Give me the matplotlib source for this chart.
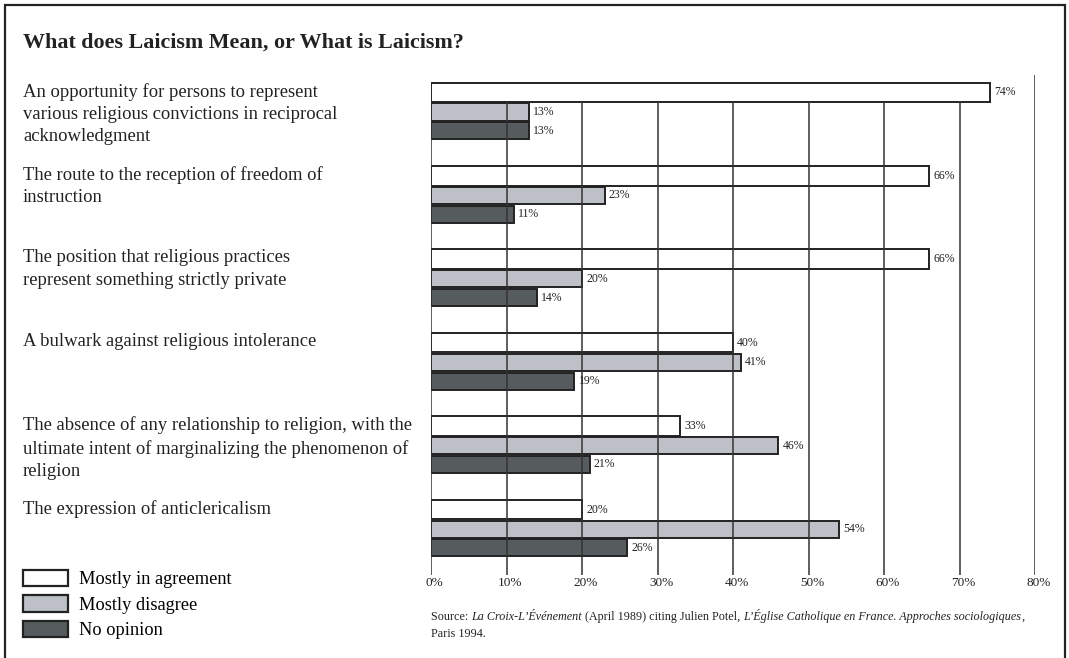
import matplotlib.pyplot as plt
import matplotlib.transforms as mtransforms
from matplotlib.patches import Rectangle, Patch
import numpy as np

plt.rcParams['font.family'] = ['Liberation Serif', 'DejaVu Serif']

# data
categories = [
    "An opportunity for persons to represent\nvarious religious convictions in reciprocal\nacknowledgment",
    "The route to the reception of freedom of\ninstruction",
    "The position that religious practices\nrepresent something strictly private",
    "A bulwark against religious intolerance",
    "The absence of any relationship to religion, with the\nultimate intent of marginalizing the phenomenon of\nreligion",
    "The expression of anticlericalism",
]
agree = [74, 66, 66, 40, 33, 20]
disagree = [13, 23, 20, 41, 46, 54]
no_opinion = [13, 11, 14, 19, 21, 26]
series_names = ["Mostly in agreement", "Mostly disagree", "No opinion"]
ticks = [0, 10, 20, 30, 40, 50, 60, 70, 80]

colors = ['#ffffff', '#bdc1c7', '#565c5d']
edge = '#222222'

fig = plt.figure(figsize=(10.69, 6.58), dpi=100)
W, H = 1069, 658

# outer frame
fig.patches.append(Rectangle((5 / W, -0.05), 1060 / W, 1.05 - 5 / H, transform=fig.transFigure,
                             fill=False, lw=1.6, edgecolor=edge, zorder=0))

fig.text(23 / W, 1 - 43 / H, "What does Laicism Mean, or What is Laicism?",
         fontsize=15.8, fontweight='bold', va='center', ha='left', color='#222222')

ax = fig.add_axes([431 / W, 1 - 575 / H, 604 / W, 500 / H])
ax.set_xlim(0, 80)
ax.set_ylim(5.55, -0.444)
ax.axis('off')

y = np.arange(len(categories))
offsets = [-0.235, 0.0, 0.225]
heights = [0.235, 0.205, 0.205]
for vals, off, h, c in zip([agree, disagree, no_opinion], offsets, heights, colors):
    bars = ax.barh(y + off, vals, height=h, color=c, edgecolor=edge, linewidth=1.4, zorder=2)
    for b, v in zip(bars, vals):
        ax.annotate(f"{v}%", (b.get_width(), b.get_y() + b.get_height() / 2),
                    xytext=(3, 0), textcoords='offset points', va='center', ha='left',
                    fontsize=8.5, color='#222222', zorder=4)

# grid lines
top_bar_bottom = offsets[0] + heights[0] / 2
ax.vlines(ticks[:-1], top_bar_bottom, 5.55, color='#333333', lw=1.1, zorder=3)
ax.vlines(ticks[-1], -0.444, 5.55, color='#333333', lw=1.1, zorder=3)
tick_trans = ax.transData + mtransforms.ScaledTranslation(0, -2 / 100, fig.dpi_scale_trans)
for t in ticks:
    ax.text(t + 0.5, 5.55, f"{t}%", transform=tick_trans, ha='center', va='top',
            fontsize=9.5, color='#222222')

# category labels
trans = mtransforms.blended_transform_factory(fig.transFigure, ax.transData)
for i, lab in enumerate(categories):
    ax.text(23 / W, i + offsets[0] - heights[0] / 2, lab, transform=trans, ha='left', va='top',
            fontsize=13.4, linespacing=1.4, color='#222222')

# legend
handles = [Patch(facecolor=c, edgecolor=edge, linewidth=1.6) for c in colors]
fig.legend(handles, series_names, loc='upper left', bbox_to_anchor=(23 / W, 1 - 570 / H),
           frameon=False, fontsize=13.2, handlelength=2.45, handleheight=1.0,
           labelspacing=0.38, handletextpad=0.6, borderaxespad=0, borderpad=0)

# source note with mixed italics
src1 = [("Source: ", 'normal'), ("La Croix-L\u2019\u00c9v\u00e9nement", 'italic'),
        (" (April 1989) citing Julien Potel, ", 'normal'),
        ("L\u2019\u00c9glise Catholique en France. Approches sociologiques", 'italic'), (",", 'normal')]
prev = fig.text(431 / W, 1 - 623 / H, src1[0][0], fontsize=8.7, style=src1[0][1],
                ha='left', va='bottom', color='#222222')
for txt, st in src1[1:]:
    prev = ax.annotate(txt, xy=(1, 0), xycoords=prev, ha='left', va='bottom',
                       fontsize=8.7, style=st, color='#222222', annotation_clip=False)
fig.text(431 / W, 1 - 640 / H, "Paris 1994.", fontsize=8.7, ha='left', va='bottom', color='#222222')

fig.savefig('out.png', dpi=100)
